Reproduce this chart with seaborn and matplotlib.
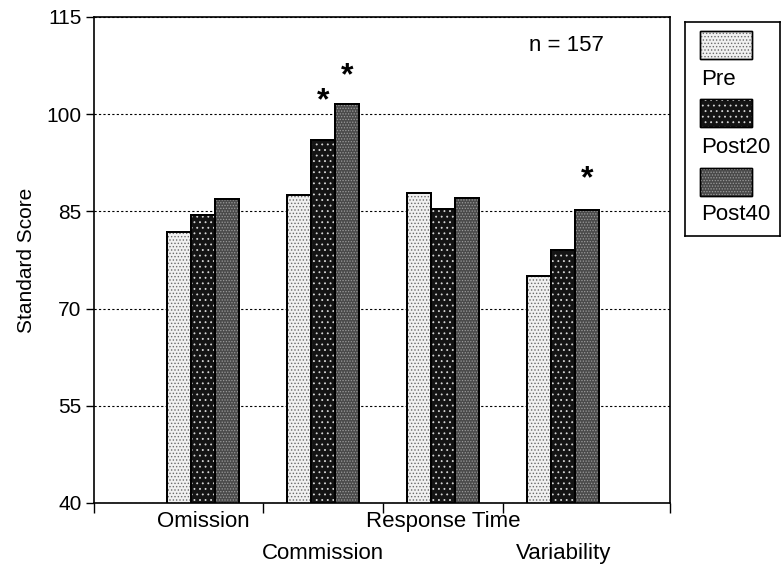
import matplotlib
matplotlib.use("Agg")
import matplotlib.pyplot as plt
from matplotlib.patches import Rectangle
import seaborn as sns
import pandas as pd

measures = ["Omission", "Commission", "Response Time", "Variability"]
times = ["Pre", "Post20", "Post40"]
pre = [81.8, 87.6, 87.8, 75.0]
post20 = [84.4, 96.0, 85.4, 79.0]
post40 = [86.9, 101.6, 87.1, 85.2]
yticks = [40, 55, 70, 85, 100, 115]
# significance stars: (measure index, time index, offset above bar)
stars = [(1, 1, 6.0), (1, 2, 4.3), (3, 2, 4.8)]
n_label = "n = 157"

sns.set_style("ticks")
plt.rcParams["font.family"] = ["Liberation Sans", "DejaVu Sans"]
plt.rcParams["text.color"] = "black"
plt.rcParams["xtick.color"] = "black"
plt.rcParams["ytick.color"] = "black"
plt.rcParams["axes.labelcolor"] = "black"

rows = []
for t, vals in zip(times, [pre, post20, post40]):
    for m, v in zip(measures, vals):
        rows.append({"Measure": m, "Time": t, "Score": v})
df = pd.DataFrame(rows)

face = {"Pre": "#f0f0f0", "Post20": "#141414", "Post40": "#4a4a4a"}
hatch_col = {"Pre": "#6a6a6a", "Post20": "#d8d8d8", "Post40": "#9a9a9a"}
hatch_pat = {"Pre": ".....", "Post20": "...", "Post40": "......"}
plt.rcParams["hatch.linewidth"] = 0.6

FS = 16

fig = plt.figure(figsize=(7.81, 5.70), dpi=100)
ax = fig.add_axes([94 / 781, 1 - 503 / 570, 576 / 781, 486 / 570])

sns.barplot(data=df, x="Measure", y="Score", hue="Time", order=measures,
            hue_order=times, palette=face, width=0.6, ax=ax, legend=False,
            edgecolor="black", linewidth=1.4, saturation=1, errorbar=None)

for t, cont in zip(times, ax.containers):
    for bar in cont:
        ax.add_patch(Rectangle(bar.get_xy(), bar.get_width(), bar.get_height(),
                               facecolor="none", edgecolor=hatch_col[t], lw=0,
                               hatch=hatch_pat[t], zorder=bar.get_zorder() + 0.1))
        ax.add_patch(Rectangle(bar.get_xy(), bar.get_width(), bar.get_height(),
                               facecolor="none", edgecolor="black", lw=1.4,
                               zorder=bar.get_zorder() + 0.2))

for mi, ti, off in stars:
    bar = ax.containers[ti][mi]
    x = bar.get_x() + bar.get_width() / 2
    ax.text(x, bar.get_height() + off, "*", ha="center", va="center",
            fontsize=23, fontweight="bold", color="black")

ax.set_ylim(40, 115)
ax.set_xlim(-0.91, 3.89)
ax.set_yticks(yticks)
ax.tick_params(axis="y", labelsize=15, length=6, width=1, pad=3, color="black",
               labelcolor="black")
ax.yaxis.grid(True, linestyle=(0, (2, 2)), color="black", lw=0.8)
ax.set_axisbelow(True)

ax.set_xticks(range(len(measures)))
ax.set_xticklabels([])
ax.tick_params(axis="x", which="major", length=0)
ax.set_xticks([-0.91, 0.5, 1.5, 2.5, 3.89], minor=True)
ax.tick_params(axis="x", which="minor", length=7, width=1, color="black")
for i, m in enumerate(measures):
    yy = -0.039 if i % 2 == 0 else -0.103
    ax.text(i, yy, m, transform=ax.get_xaxis_transform(), ha="center",
            va="center", fontsize=FS, color="black")

ax.set_xlabel("")
ax.set_ylabel("")
for s in ax.spines.values():
    s.set_visible(True)
    s.set_color("black")
    s.set_linewidth(1.2)

ax.text(0.82, 0.942, n_label, transform=ax.transAxes, ha="center", va="center",
        fontsize=FS, color="black")
fig.text(27 / 781, 1 - 260 / 570, "Standard Score", rotation=90, ha="center",
         va="center", fontsize=15, color="black")

# legend box
lax = fig.add_axes([685 / 781, 1 - 236 / 570, 95 / 781, 214 / 570])
lax.set_xlim(0, 95)
lax.set_ylim(214, 0)
lax.set_xticks([])
lax.set_yticks([])
for s in lax.spines.values():
    s.set_color("black")
    s.set_linewidth(1.2)
patch_tops = [9, 77, 146]
text_y = [58, 126, 193]
for t, pt, ty in zip(times, patch_tops, text_y):
    lax.add_patch(Rectangle((15, pt), 52, 28, facecolor=face[t], edgecolor="black", lw=1))
    lax.add_patch(Rectangle((15, pt), 52, 28, facecolor="none", edgecolor=hatch_col[t],
                            lw=0, hatch=hatch_pat[t]))
    lax.add_patch(Rectangle((15, pt), 52, 28, facecolor="none", edgecolor="black", lw=1))
    lax.text(16, ty, t, ha="left", va="center", fontsize=FS, color="black")

fig.savefig("out.png", dpi=100)
